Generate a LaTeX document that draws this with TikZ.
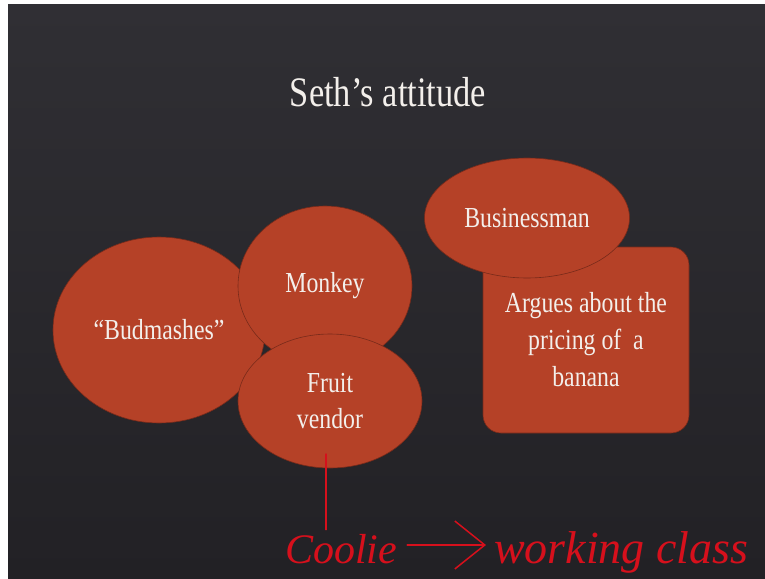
\documentclass[tikz,border=0pt]{standalone}
\usepackage{fontspec}
\setmainfont[FakeStretch=0.82]{Liberation Serif}
\newfontfamily\handfont{Liberation Serif}
\usetikzlibrary{shapes.geometric,arrows.meta}

\definecolor{slate}{RGB}{48,47,52}
\definecolor{slatedark}{RGB}{34,33,37}
\definecolor{rust}{RGB}{181,65,39}
\definecolor{rustedge}{RGB}{120,42,26}
\definecolor{chalk}{RGB}{243,239,235}
\definecolor{ink}{RGB}{214,16,28}

\tikzset{
  bubble/.style={ellipse, fill=rust, draw=rustedge, line width=0.6pt,
    inner sep=0pt, text=chalk, align=center,
    font=\fontsize{29}{36}\selectfont},
  panel/.style={rectangle, rounded corners=18pt, fill=rust, draw=rustedge,
    line width=0.6pt, inner sep=0pt, text=chalk, align=center,
    font=\fontsize{29}{37}\selectfont},
  heading/.style={text=chalk, font=\fontsize{42}{48}\selectfont},
  scrawl/.style={text=ink, inner sep=0pt},
  pen/.style={draw=ink, line width=1.5pt, line cap=round, line join=round}
}

\begin{document}
\begin{tikzpicture}[x=1pt, y=-1pt]
  \useasboundingbox (0,0) rectangle (765,578);
  % slide backdrop with a thin white margin
  \fill[white] (0,0) rectangle (765,578);
  \shade[top color=slate, bottom color=slatedark] (8,5) rectangle (765,578);

  % title
  \node[heading] (title) at (388,92) {Seth’s attitude};

  % left cluster of ellipses
  \node[bubble, minimum width=212pt, minimum height=186pt] (budmashes) at (159,330) {“Budmashes”};
  \node[bubble, minimum width=174pt, minimum height=160pt] (monkey) at (325,286) {Monkey};
  \node[bubble, minimum width=184pt, minimum height=134pt] (fruit) at (330,401) {Fruit\\vendor};

  % right group: box with ellipse on top
  \node[panel, minimum width=206pt, minimum height=186pt] (argues) at (586,340) {Argues about the\\pricing of\ \ a\\banana};
  \node[bubble, minimum width=205pt, minimum height=120pt] (business) at (527,218) {Businessman};

  % handwritten annotation
  \node[scrawl, font=\handfont\itshape\fontsize{42}{44}\selectfont, anchor=base] (coolie) at (341,563) {Coolie};
  \node[scrawl, font=\handfont\itshape\fontsize{46}{48}\selectfont, anchor=base west] (working) at (494,563) {working class};
  \coordinate (tick) at (326,454);
  \coordinate (arrowline) at (0,545);
  \draw[pen] (tick) -- ([yshift=4pt]tick |- coolie.north);
  \draw[pen, -{Straight Barb[length=30pt, width=48pt, line width=1.5pt]}]
    ([xshift=10pt]coolie.east |- arrowline) -- ([xshift=-8pt]working.west |- arrowline);
\end{tikzpicture}
\end{document}
